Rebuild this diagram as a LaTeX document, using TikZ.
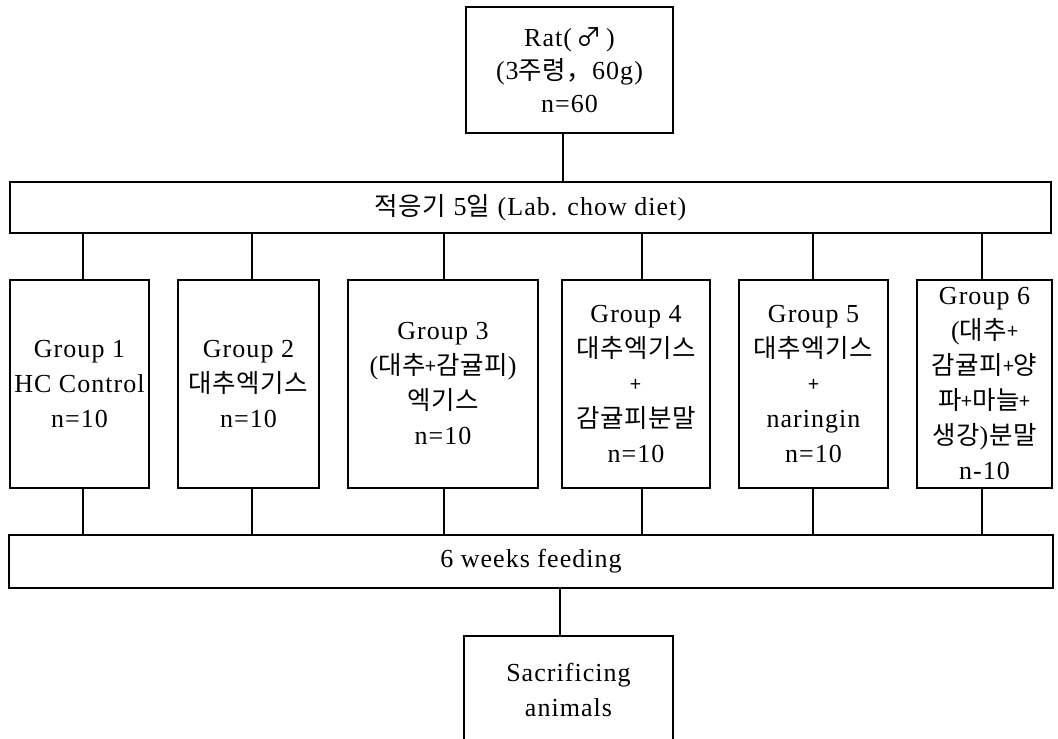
\documentclass[tikz,border=0pt]{standalone}
\usepackage{fontspec}
\setmainfont{Liberation Serif}[LetterSpace=4]
\newfontfamily\kr{Noto Sans CJK KR}[Scale=0.98,LetterSpace=2]
% small plus sign used between Korean words
\newcommand\kp{\raisebox{1pt}{\kr\fontsize{20}{20}\selectfont +}}
\begin{document}
\begin{tikzpicture}[x=1pt,y=-1pt,
  box/.style={draw,line width=1.6pt,inner sep=0pt,align=center,
    font=\fontsize{26}{35}\selectfont},
  wire/.style={line width=1.5pt},
  thickwire/.style={line width=2.4pt}]
\useasboundingbox (0,0) rectangle (1058,739);

% start and acclimatisation
\node[box,minimum width=207pt,minimum height=126pt,
  font=\fontsize{26}{33}\selectfont] (rat) at (569.5,70)
  {Rat(\,{\kr ♂}\,)\\(3{\kr 주령，}60g)\\n=60};
\node[box,minimum width=1041pt,minimum height=51pt] (adapt) at (530.5,207.5)
  {{\kr 적응기} 5{\kr 일} (Lab. chow diet)};

% the six diet groups
\node[box,minimum width=139pt,minimum height=208pt] (g1) at (79.5,384)
  {Group 1\\HC Control\\n=10};
\node[box,minimum width=141pt,minimum height=208pt] (g2) at (248.5,384)
  {Group 2\\{\kr 대추엑기스}\\n=10};
\node[box,minimum width=190pt,minimum height=208pt] (g3) at (443,384)
  {Group 3\\({\kr 대추}\kp{\kr 감귤피})\\{\kr 엑기스}\\n=10};
\node[box,minimum width=148pt,minimum height=208pt] (g4) at (636,384)
  {Group 4\\{\kr 대추엑기스}\\\kp\\{\kr 감귤피분말}\\n=10};
\node[box,minimum width=149pt,minimum height=208pt] (g5) at (813.5,384)
  {Group 5\\{\kr 대추엑기스}\\\kp\\naringin\\n=10};
\node[box,minimum width=135pt,minimum height=208pt] (g6) at (984.5,384)
  {Group 6\\({\kr 대추}\kp\\{\kr 감귤피}\kp{\kr 양}\\{\kr 파}\kp{\kr 마늘}\kp\\{\kr 생강})\kern1pt{\kr 분말}\\n-10};

% feeding period and end point
\node[box,minimum width=1044pt,minimum height=53pt] (feed) at (531,561.5)
  {6 weeks feeding};
\node[box,minimum width=209pt,minimum height=108pt] (sac) at (568.5,690)
  {Sacrificing\\animals};

% connectors
\draw[wire] ([xshift=-6.5pt]rat.south) -- ([xshift=-6.5pt]rat.south |- adapt.north);
\foreach \g/\s in {g1/3.5,g2/3.5,g3/1,g4/6,g5/-0.5,g6/-2.5}{
  \draw[wire] ([xshift=\s pt]\g.north) -- ([xshift=\s pt]\g.north |- adapt.south);
  \draw[wire] ([xshift=\s pt]\g.south) -- ([xshift=\s pt]\g.south |- feed.north);
}
\draw[thickwire] ([xshift=-8.5pt]sac.north) -- ([xshift=-8.5pt]sac.north |- feed.south);
\end{tikzpicture}
\end{document}
